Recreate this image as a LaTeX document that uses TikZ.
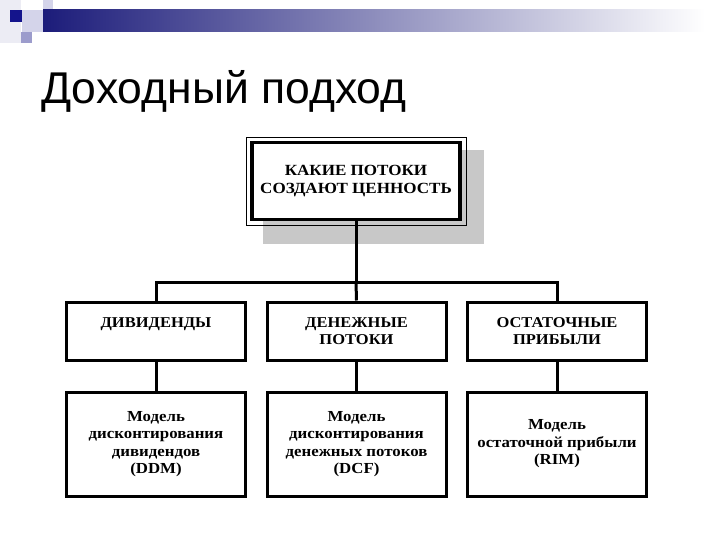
\documentclass[tikz,border=0pt]{standalone}
\usepackage{fontspec}
\setmainfont{Liberation Serif}
\newfontfamily\titlefont{Liberation Sans}
\newfontfamily\boxfont[FakeStretch=1.1]{Liberation Serif}
\usetikzlibrary{positioning,backgrounds,calc}
\definecolor{barnavy}{HTML}{1C1C7A}
\definecolor{sqdark}{HTML}{14148C}
\definecolor{sqmid}{HTML}{9C9CCC}
\definecolor{sqlight}{HTML}{D4D4EA}
\definecolor{sqpale}{HTML}{ECECF4}
\definecolor{shadowgray}{HTML}{C8C8C8}

\begin{document}
\begin{tikzpicture}[x=1pt, y=-1pt,
  title/.style={font=\titlefont\fontsize{44.5}{50}\selectfont, inner sep=0pt},
  head/.style={rectangle, draw=black, line width=3.5pt, fill=white,
               minimum width=208pt, minimum height=77pt,
               font=\boxfont\bfseries\fontsize{15.5}{18}\selectfont, align=center},
  cat/.style={rectangle, draw=black, line width=3pt,
              minimum width=179pt, minimum height=58pt,
              font=\boxfont\bfseries\fontsize{15}{17}\selectfont, align=center},
  model/.style={cat, minimum height=104pt,
                font=\boxfont\bfseries\fontsize{15.3}{17.4}\selectfont},
  link/.style={line width=3pt},
]
  \useasboundingbox (0,0) rectangle (720,540);

  % header bar and squares
  \fill[sqpale] (0,0) rectangle (21,43);
  \fill[sqlight] (22,10) rectangle (43,32);
  \fill[sqlight] (43,0) rectangle (53,10);
  \fill[sqdark] (10,10) rectangle (22,22);
  \fill[sqmid] (21,32) rectangle (32,43);
  \shade[left color=barnavy, right color=white] (43,10) rectangle (705,32);

  \node[title, anchor=base west] (ttl) at (41,104) {Доходный подход};

  \node[head] (top) at (356,181) {КАКИЕ ПОТОКИ\\СОЗДАЮТ ЦЕННОСТЬ};
  \draw[thin] ($(top.north west)+(-4,-4)$) rectangle ($(top.south east)+(4,4)$);

  \node[cat] (div) at (156,331) {ДИВИДЕНДЫ\\\mbox{}};
  \node[cat, right=18.5pt of div] (flow) {ДЕНЕЖНЫЕ\\ПОТОКИ};
  \node[cat, right=18.5pt of flow] (res) {ОСТАТОЧНЫЕ\\ПРИБЫЛИ};

  \node[model, below=29pt of div] (ddm) {Модель\\дисконтирования\\дивидендов\\(DDM)};
  \node[model, below=29pt of flow] (dcf) {Модель\\дисконтирования\\денежных потоков\\(DCF)};
  \node[model, below=29pt of res] (rim) {Модель\\остаточной прибыли\\(RIM)};

  \begin{scope}[on background layer]
    \fill[shadowgray] ($(top.north west)+(13,9)$) rectangle ($(top.south east)+(22,23)$);
  \end{scope}

  \coordinate (split) at (356,282);
  \draw[link] (top.south) -- (split);
  \draw[link] (div.north) |- (split) -| (res.north);
  \draw[link] (split) -- (flow.north);
  \draw[link] (div) -- (ddm);
  \draw[link] (flow) -- (dcf);
  \draw[link] (res) -- (rim);
\end{tikzpicture}
\end{document}
